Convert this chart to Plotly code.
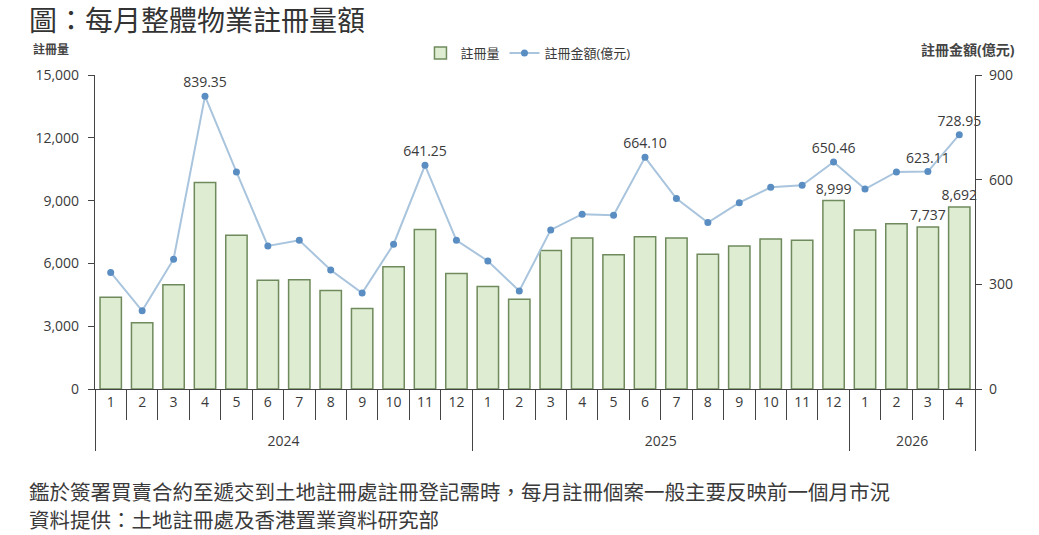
import plotly.graph_objects as go

years = ["2024"] * 12 + ["2025"] * 12 + ["2026"] * 4
months = [str(m) for m in range(1, 13)] * 2 + ["1", "2", "3", "4"]

# 註冊量 (宗)
counts = [4380, 3170, 4980, 9860, 7350, 5190, 5220, 4710, 3840, 5840, 7620, 5520,
          4900, 4290, 6620, 7210, 6410, 7270, 7210, 6440, 6830, 7170, 7100, 8999,
          7600, 7900, 7737, 8692]
# 註冊金額 (億元)
amounts = [334, 224, 372, 839.35, 622, 410, 426, 341, 275, 415, 641.25, 426,
           367, 281, 456, 501, 498, 664.10, 546, 477, 534, 578, 584, 650.46,
           573, 622, 623.11, 728.95]

count_labelled = [23, 26, 27]
amount_labelled = [3, 10, 17, 23, 26, 27]

count_text = ["{:,}".format(v) if i in count_labelled else "" for i, v in enumerate(counts)]
amount_text = ["{:.2f}".format(v) if i in amount_labelled else "" for i, v in enumerate(amounts)]

# push the year row a bit lower, like the original two-level axis
year_cats = ["<br>" + y for y in years]

font_fam = "Open Sans, Noto Sans CJK TC, sans-serif"
dark = "#3a3a3a"

fig = go.Figure()
fig.add_trace(go.Bar(
    x=[year_cats, months], y=counts, name="註冊量",
    marker=dict(color="#deedd2", line=dict(color="#6f8a5c", width=1.5)),
    text=count_text, textposition="outside", constraintext="none",
    textfont=dict(size=14, color=dark), cliponaxis=False,
))
fig.add_trace(go.Scatter(
    x=[year_cats, months], y=amounts, name="註冊金額(億元)", yaxis="y2",
    mode="lines+markers+text",
    line=dict(color="#a9c4dd", width=2),
    marker=dict(color="#5a8ec2", size=7),
    text=amount_text, textposition="top center", textfont=dict(size=14, color=dark),
    cliponaxis=False,
))

fig.update_layout(
    width=1039, height=535,
    margin=dict(l=95, r=64, t=75, b=146),
    paper_bgcolor="white", plot_bgcolor="white",
    font=dict(family=font_fam, size=12, color=dark),
    bargap=0.32,
    showlegend=True,
    legend=dict(orientation="h", x=0.492, xanchor="center", y=1.07, yanchor="middle",
                font=dict(size=13), bgcolor="rgba(0,0,0,0)"),
    xaxis=dict(
        type="multicategory", range=[-0.5, 27.5], showline=True, linecolor="#444",
        linewidth=1.2, ticks="outside", ticklen=30, tickcolor="#444",
        tickson="boundaries", showdividers=True, dividercolor="#444", dividerwidth=1.2,
        tickfont=dict(size=14, color=dark), showgrid=False,
    ),
    yaxis=dict(
        range=[0, 15000], dtick=3000, tickformat=",", showline=True,
        linecolor="#444", linewidth=1.2, ticks="outside", ticklen=6, tickcolor="#444",
        ticklabelstandoff=6,
        showgrid=False, zeroline=False, tickfont=dict(size=14, color=dark),
    ),
    yaxis2=dict(
        range=[0, 900], dtick=300, overlaying="y", side="right", showline=True,
        linecolor="#444", linewidth=1.2, ticks="outside", ticklen=6, tickcolor="#444",
        ticklabelstandoff=4,
        showgrid=False, zeroline=False, tickfont=dict(size=14, color=dark),
    ),
)

fig.add_annotation(text="圖：每月整體物業註冊量額", xref="paper", yref="paper",
                   x=-0.077, y=1.176, xanchor="left", yanchor="middle", showarrow=False,
                   font=dict(size=28, color="#333"))
fig.add_annotation(text="<b>註冊量</b>", xref="paper", yref="paper",
                   x=-0.05, y=1.08, xanchor="center", yanchor="middle", showarrow=False,
                   font=dict(size=12, color="#444"))
fig.add_annotation(text="<b>註冊金額(億元)</b>", xref="paper", yref="paper",
                   x=0.992, y=1.08, xanchor="center", yanchor="middle", showarrow=False,
                   font=dict(size=14, color="#444"))
fig.add_annotation(text="鑑於簽署買賣合約至遞交到土地註冊處註冊登記需時，每月註冊個案一般主要反映前一個月市況",
                   xref="paper", yref="paper", x=-0.077, y=-0.328, xanchor="left",
                   yanchor="middle", showarrow=False, font=dict(size=20.5, color="#3a3a3a"))
fig.add_annotation(text="資料提供：土地註冊處及香港置業資料研究部",
                   xref="paper", yref="paper", x=-0.077, y=-0.417, xanchor="left",
                   yanchor="middle", showarrow=False, font=dict(size=20.5, color="#3a3a3a"))

fig.write_html("out.html", config={"displayModeBar": False},
               post_script="document.body.style.margin='0';")
